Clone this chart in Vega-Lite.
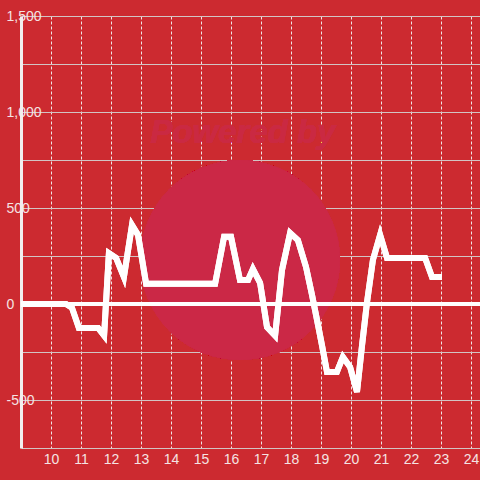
{
  "$schema": "https://vega.github.io/schema/vega-lite/v6.json",
  "width": 459,
  "height": 432,
  "autosize": {"type": "none"},
  "padding": {"left": 21, "top": 16, "right": 0, "bottom": 32},
  "background": "#cc2a30",
  "config": {"view": {"stroke": null}, "font": "Liberation Sans", "axis": {"labelOverlap": false, "labelSeparation": 0, "zindex": 1}},
  "resolve": {"axis": {"x": "independent"}},
  "data": {
    "values": [
      {"x": 9.0, "y": 0}, {"x": 10.5, "y": 0}, {"x": 10.7, "y": -20}, {"x": 10.93, "y": -125},
      {"x": 11.57, "y": -125}, {"x": 11.77, "y": -165}, {"x": 11.93, "y": 265}, {"x": 12.17, "y": 240},
      {"x": 12.43, "y": 140}, {"x": 12.7, "y": 411}, {"x": 12.9, "y": 360}, {"x": 13.17, "y": 105},
      {"x": 15.47, "y": 105}, {"x": 15.77, "y": 350}, {"x": 16.0, "y": 350}, {"x": 16.3, "y": 125},
      {"x": 16.57, "y": 125}, {"x": 16.73, "y": 182}, {"x": 16.97, "y": 110}, {"x": 17.2, "y": -120},
      {"x": 17.47, "y": -165}, {"x": 17.7, "y": 177}, {"x": 17.97, "y": 370}, {"x": 18.23, "y": 333},
      {"x": 18.5, "y": 193}, {"x": 18.7, "y": 47}, {"x": 18.9, "y": -109}, {"x": 19.03, "y": -213},
      {"x": 19.2, "y": -354}, {"x": 19.53, "y": -354}, {"x": 19.73, "y": -276}, {"x": 19.97, "y": -328},
      {"x": 20.2, "y": -458}, {"x": 20.37, "y": -213}, {"x": 20.53, "y": 5}, {"x": 20.73, "y": 229},
      {"x": 20.97, "y": 360}, {"x": 21.2, "y": 240}, {"x": 22.47, "y": 240}, {"x": 22.7, "y": 141},
      {"x": 23.03, "y": 141}
    ]
  },
  "layer": [
    {
      "mark": {"type": "point", "shape": "circle", "filled": true, "size": 40000, "fill": "#cb2846", "strokeWidth": 0, "stroke": null, "opacity": 1},
      "encoding": {
        "x": {"datum": 16.3, "type": "quantitative", "axis": null},
        "y": {"datum": 229, "type": "quantitative"}
      }
    },
    {
      "mark": {"type": "text", "text": "Powered by", "fontSize": 33, "fontWeight": "bold", "fontStyle": "italic", "fill": "#ca2942", "opacity": 1, "font": "Liberation Sans"},
      "encoding": {
        "x": {"datum": 16.4, "type": "quantitative", "axis": null},
        "y": {"datum": 890, "type": "quantitative"}
      }
    },
    {
      "mark": {"type": "rule", "color": "#ffffff", "strokeWidth": 3},
      "encoding": {"y": {"datum": 0, "type": "quantitative"}}
    },
    {
      "mark": {"type": "line", "color": "#ffffff", "strokeWidth": 6},
      "encoding": {
        "x": {
          "field": "x", "type": "quantitative",
          "scale": {"domain": [9, 24.3], "nice": false, "zero": false},
          "axis": {
            "title": null, "orient": "bottom", "values": [10, 11, 12, 13, 14, 15, 16, 17, 18, 19, 20, 21, 22, 23, 24],
            "labelExpr": "datum.value % 2 == 0 ? format(datum.value, 'd') : ''",
            "grid": true, "gridDash": [3, 2], "gridColor": "#f0e4e4", "gridWidth": 1,
            "domain": false, "ticks": false, "labelPadding": 4, "labelFontSize": 14,
            "labelColor": "#f5e3e3", "labelFont": "Liberation Sans", "labelFlush": false, "labelOverlap": false
          }
        },
        "y": {
          "field": "y", "type": "quantitative",
          "scale": {"domain": [-750, 1500], "nice": false, "zero": false},
          "axis": {
            "title": null, "values": [-750, -500, -250, 0, 250, 500, 750, 1000, 1250, 1500],
            "labelExpr": "datum.value % 500 == 0 ? replace(format(datum.value, ','), '\u2212', '-') : ''",
            "grid": true, "gridColor": "#d2c4c4", "gridWidth": 1,
            "domain": true, "domainColor": "#f2eeee", "domainWidth": 3,
            "ticks": false, "labelPadding": 15, "labelAlign": "left", "labelBaseline": "middle",
            "labelFontSize": 14, "labelColor": "#f5e3e3", "labelFont": "Liberation Sans", "labelFlush": false, "labelOverlap": false
          }
        }
      }
    },
    {
      "mark": {"type": "line", "color": "#ffffff", "strokeWidth": 6},
      "encoding": {
        "x": {
          "field": "x", "type": "quantitative",
          "axis": {
            "title": null, "orient": "bottom", "values": [11, 13, 15, 17, 19, 21, 23],
            "grid": false, "domain": false, "ticks": false, "labelPadding": 4, "labelFontSize": 14,
            "labelColor": "#f5e3e3", "labelFont": "Liberation Sans", "labelFlush": false, "labelOverlap": false
          }
        },
        "y": {"field": "y", "type": "quantitative"}
      }
    }
  ]
}
